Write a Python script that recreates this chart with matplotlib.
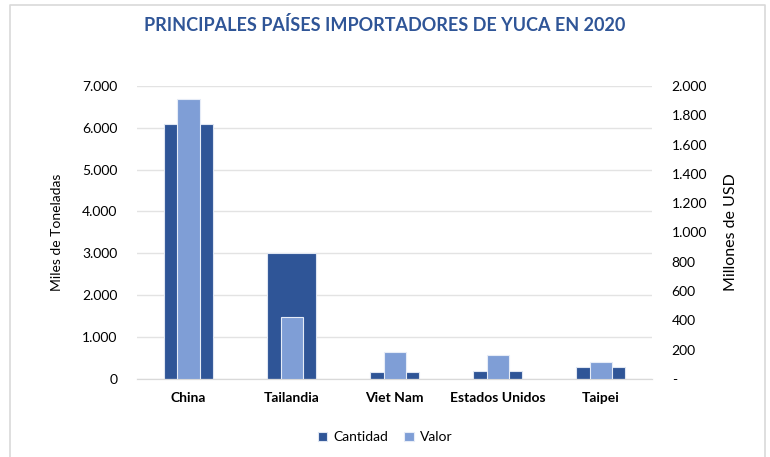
import numpy as np
import matplotlib.pyplot as plt
from matplotlib.ticker import FuncFormatter
from matplotlib.lines import Line2D

paises = ["China", "Tailandia", "Viet Nam", "Estados Unidos", "Taipei"]
cantidad = [6100, 3000, 175, 195, 275]   # miles de toneladas
valor = [1910, 420, 182, 166, 116]        # millones de USD

plt.rcParams['font.family'] = ['Lato', 'DejaVu Sans']

fig = plt.figure(figsize=(7.7, 4.57), dpi=100)
ax = fig.add_axes([0.178, 0.171, 0.669, 0.641])
ax2 = ax.twinx()

# borde del grafico (sin linea inferior)
bx0, bx1, by1 = 9.5 / 770, 764.5 / 770, 1 - 4.5 / 457
fig.add_artist(Line2D([bx0, bx0, bx1, bx1], [0, by1, by1, 0], transform=fig.transFigure,
                      color='#d9d9d9', linewidth=1.2))

x = np.arange(len(paises))
c1 = '#2F5597'
c2 = '#7F9ED6'
ax.bar(x, cantidad, width=0.47, color=c1, edgecolor='#dfe6f2', linewidth=0.8, label='Cantidad', zorder=2)
ax2.bar(x, valor, width=0.215, color=c2, edgecolor='#e6ecf7', linewidth=0.8, label='Valor', zorder=3)

ax.set_ylim(0, 7000)
ax.set_yticks(np.arange(0, 7001, 1000))
ax2.set_ylim(0, 2000)
ax2.set_yticks(np.arange(0, 2001, 200))
ax.set_xlim(-0.5, len(paises) - 0.5)

def miles(v, pos):
    return f"{int(v):,}".replace(",", ".")

def miles_guion(v, pos):
    if v == 0:
        return "-"
    return f"{int(v):,}".replace(",", ".")

ax.yaxis.set_major_formatter(FuncFormatter(miles))
ax2.yaxis.set_major_formatter(FuncFormatter(miles_guion))

ax.grid(axis='y', color='#e3e3e3', linewidth=1, zorder=0)
ax.set_axisbelow(True)
for a in (ax, ax2):
    for s in ('top', 'left', 'right'):
        a.spines[s].set_visible(False)
    a.spines['bottom'].set_color('#d9d9d9')
    a.tick_params(length=0, labelsize=10, colors='#000000')
ax.tick_params(axis='y', pad=14)
ax2.tick_params(axis='y', pad=14)
ax.set_xticks(x)
ax.set_xticklabels(paises, fontweight='bold', fontsize=10)
ax.tick_params(axis='x', pad=9.5)

ax.set_ylabel("Miles de Toneladas", fontsize=10, labelpad=14)
ax2.set_ylabel("Millones de USD", fontsize=11.5, labelpad=12)

fig.suptitle("PRINCIPALES PAÍSES IMPORTADORES DE YUCA EN 2020", x=0.5, y=0.965,
             fontsize=13, fontweight='bold', color='#2F5597')

h1, l1 = ax.get_legend_handles_labels()
h2, l2 = ax2.get_legend_handles_labels()
fig.legend(h1 + h2, l1 + l2, loc='center', bbox_to_anchor=(0.5, 0.043), ncol=2,
           frameon=False, fontsize=10, handlelength=0.7, handleheight=0.7,
           columnspacing=1.2, handletextpad=0.4)

fig.savefig("out.png", dpi=100)
